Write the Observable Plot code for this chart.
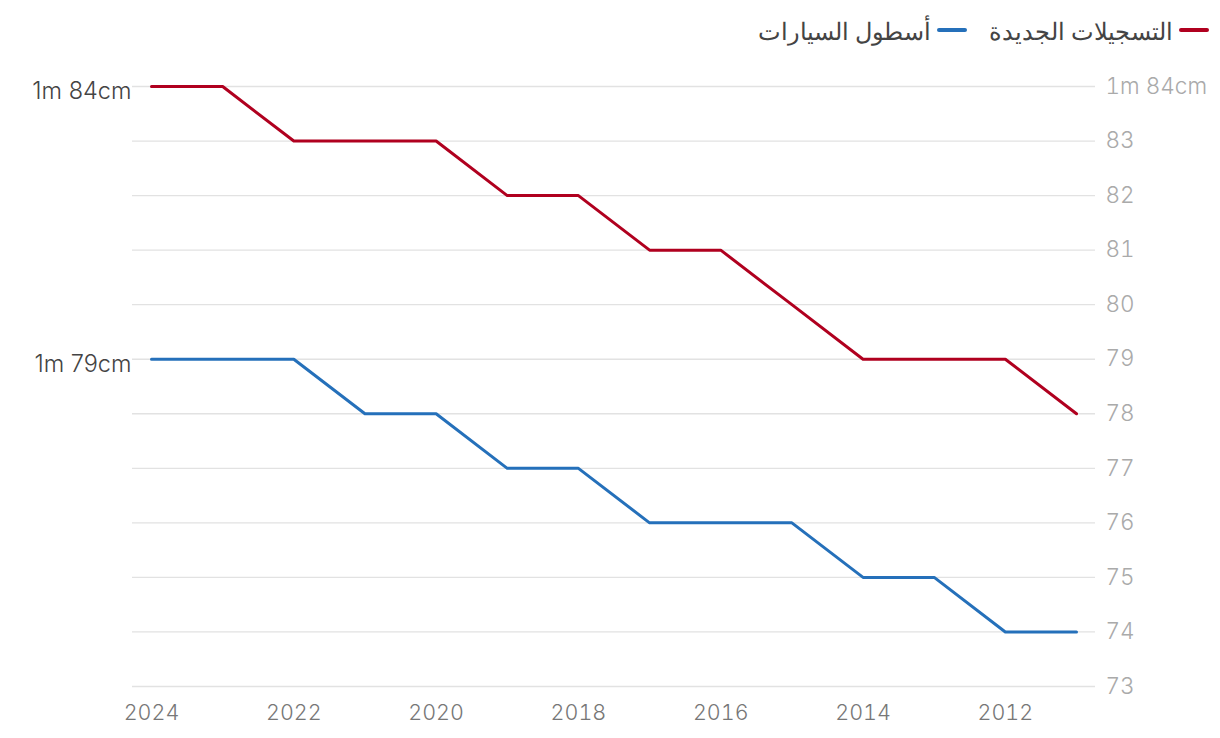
<!DOCTYPE html>
<html><head><meta charset="utf-8">
<script src="https://cdn.jsdelivr.net/npm/d3@7"></script>
<script src="https://cdn.jsdelivr.net/npm/@observablehq/plot@0.6"></script>
<style>
body{margin:0;background:#fff;font-family:Inter,Roboto,"Noto Sans","DejaVu Sans",sans-serif;}
#legend{height:60px;display:flex;direction:rtl;align-items:center;gap:22px;padding-right:11px;box-sizing:border-box;font-size:24px;color:#444;font-family:"Noto Sans","DejaVu Sans",sans-serif;font-weight:300;}
.item{display:flex;align-items:center;gap:6px;}
.sw{width:30px;height:4px;border-radius:2px;}
</style></head>
<body>
<div id="legend"></div>
<div id="chart"></div>
<script>
const years = [2024,2023,2022,2021,2020,2019,2018,2017,2016,2015,2014,2013,2012,2011];
const newRegistrations = [84,84,83,83,83,82,82,81,81,80,79,79,79,78];
const carFleet = [79,79,79,78,78,77,77,76,76,76,75,75,74,74];
const seriesNames = ["التسجيلات الجديدة","أسطول السيارات"];
const seriesColors = ["#b0001f","#2570ba"];
const yTicks = [73,74,75,76,77,78,79,80,81,82,83,84];
const xTicks = [2024,2022,2020,2018,2016,2014,2012];

const data = [];
years.forEach((y,i)=>{
  data.push({year:y, value:newRegistrations[i], series:seriesNames[0]});
  data.push({year:y, value:carFleet[i], series:seriesNames[1]});
});
const firsts = [
  {year:years[0], value:newRegistrations[0], label:`1m ${newRegistrations[0]}cm`},
  {year:years[0], value:carFleet[0], label:`1m ${carFleet[0]}cm`}
];

const leg = document.getElementById("legend");
seriesNames.forEach((n,i)=>{
  const it=document.createElement("div");it.className="item";
  const sw=document.createElement("div");sw.className="sw";sw.style.background=seriesColors[i];
  const t=document.createElement("span");t.textContent=n;
  it.appendChild(sw);it.appendChild(t);leg.appendChild(it);
});

const chart = Plot.plot({
  width:1220, height:678,
  marginTop:26, marginBottom:52, marginLeft:132, marginRight:125,
  insetLeft:19, insetRight:19,
  style:{fontFamily:"Inter, Roboto, sans-serif", fontSize:"21px", fontWeight:300, background:"#fff"},
  x:{domain:[2024,2011], ticks:xTicks, tickFormat:d=>String(d), label:null, tickSize:0, tickPadding:18},
  y:{domain:[73,84], ticks:yTicks, label:null},
  color:{domain:seriesNames, range:seriesColors},
  marks:[
    Plot.ruleY(yTicks,{stroke:"#e2e2e2", strokeWidth:1.3}),
    Plot.axisX({ticks:xTicks, tickFormat:d=>String(d), tickSize:0, tickPadding:18, fill:"#777", fontSize:21.5}),
    Plot.axisY({anchor:"right", ticks:yTicks, tickSize:0, tickPadding:10, fill:"#aaa", fontSize:22.5,
      tickFormat:d=> d===84 ? "1m 84cm" : String(d)}),
    Plot.line(data,{x:"year", y:"value", z:"series", stroke:"series", strokeWidth:3}),
    Plot.text(firsts,{x:"year", y:"value", text:"label", textAnchor:"end", dx:-20, dy:5, fill:"#444", fontSize:23.5})
  ]
});
document.getElementById("chart").appendChild(chart);
</script>
</body></html>
